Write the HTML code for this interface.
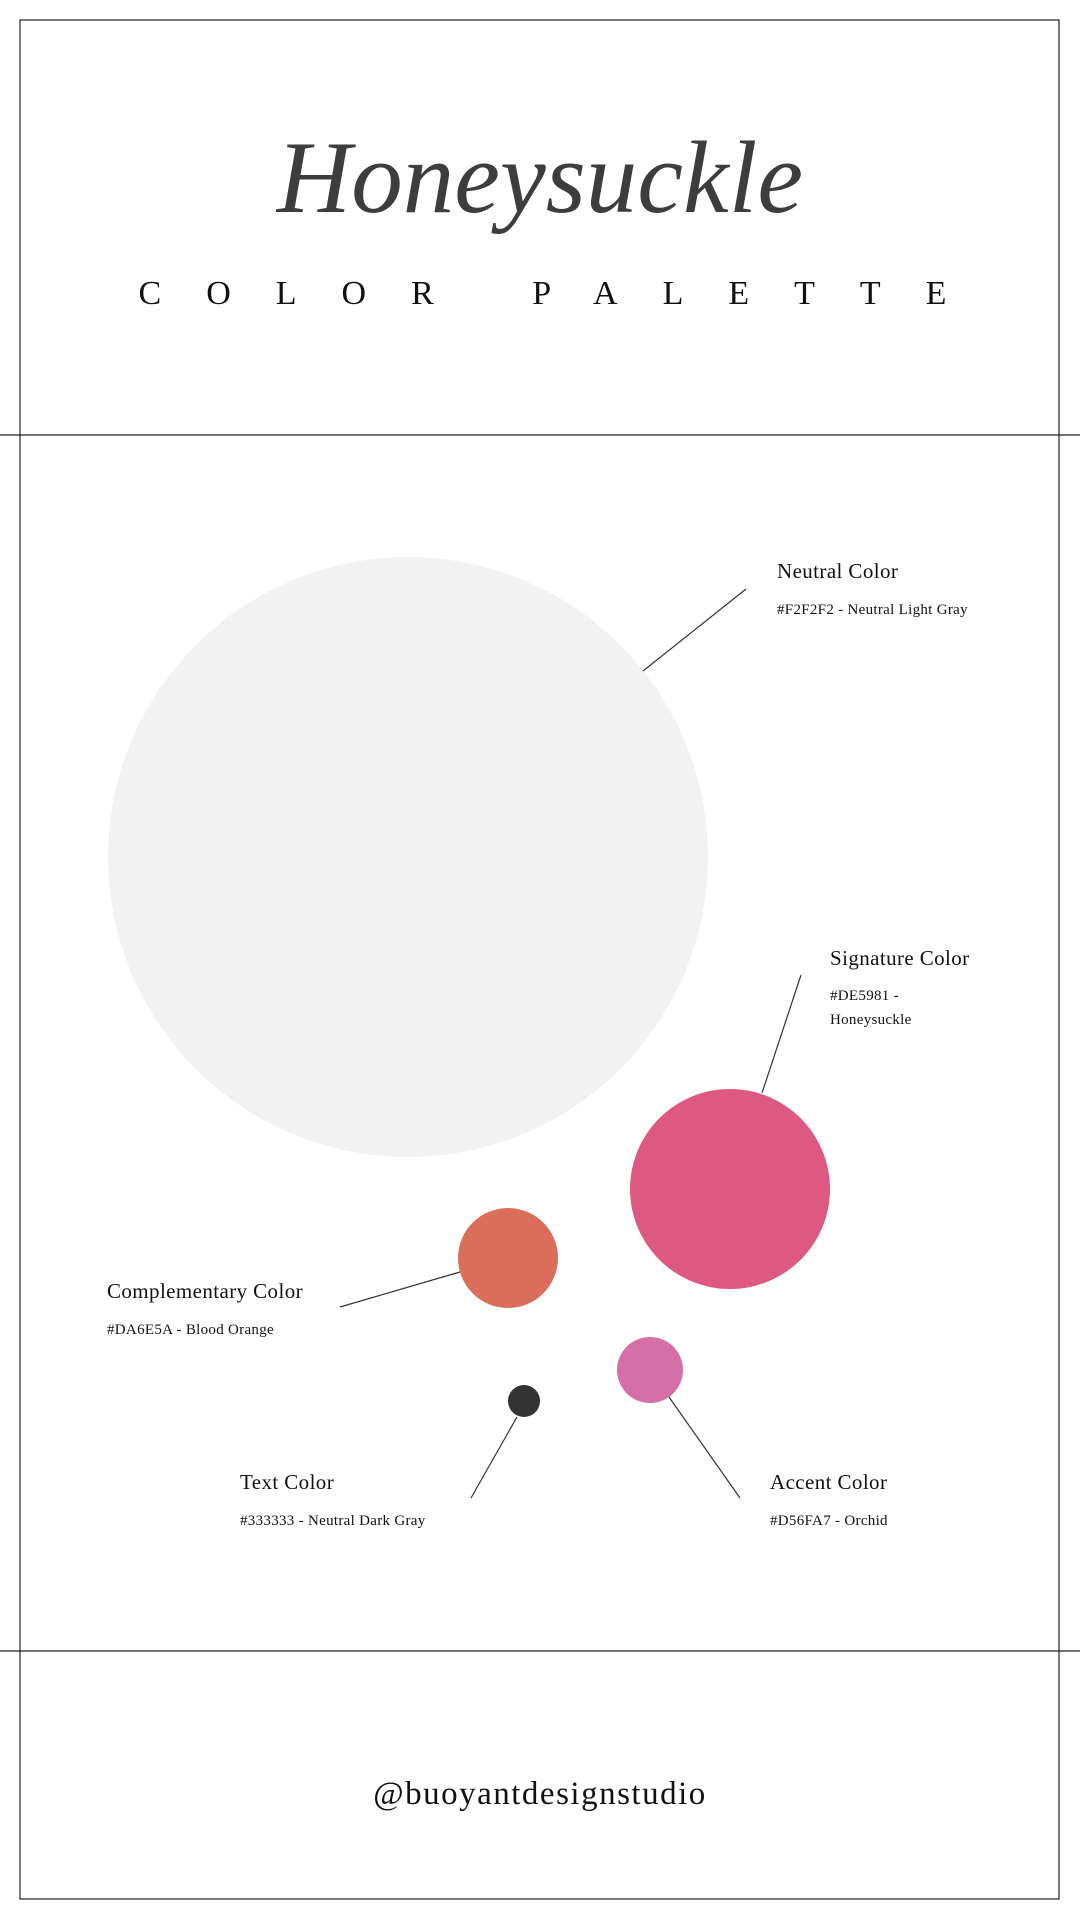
<!DOCTYPE html>
<html><head><meta charset="utf-8"><style>
html,body{margin:0;padding:0;background:#fff}
svg{display:block}
.t{font-family:"Liberation Serif",serif;fill:#111}
</style></head><body>
<svg width="1080" height="1920" viewBox="0 0 1080 1920" xmlns="http://www.w3.org/2000/svg">
<rect x="20" y="20" width="1039" height="1879" fill="none" stroke="#222" stroke-width="1.2"/>
<line x1="0" y1="435" x2="1080" y2="435" stroke="#222" stroke-width="1.2"/>
<line x1="0" y1="1651" x2="1080" y2="1651" stroke="#222" stroke-width="1.2"/>
<text x="540" y="212" text-anchor="middle" font-family="Liberation Serif,serif" font-style="italic" font-size="103" fill="#3d3d3d">Honeysuckle</text>
<text x="565" y="304" text-anchor="middle" class="t" font-size="34" letter-spacing="45">COLOR PALETTE</text>
<circle cx="408" cy="857" r="300" fill="#f2f2f2"/>
<circle cx="730" cy="1189" r="100" fill="#de5981"/>
<circle cx="508" cy="1258" r="50" fill="#da6e5a"/>
<circle cx="650" cy="1370" r="33" fill="#d56fa7"/>
<circle cx="524" cy="1401" r="16" fill="#333"/>
<g stroke="#333" stroke-width="1.2">
<line x1="643" y1="671" x2="746" y2="589"/>
<line x1="762" y1="1093" x2="801" y2="975"/>
<line x1="340" y1="1307" x2="460" y2="1272"/>
<line x1="471" y1="1498" x2="517" y2="1417"/>
<line x1="740" y1="1498" x2="669" y2="1397"/>
</g>
<g class="t">
<text x="777" y="578" font-size="21" letter-spacing="0.4">Neutral Color</text>
<text x="777" y="614" font-size="15" letter-spacing="0.3">#F2F2F2 - Neutral Light Gray</text>
<text x="830" y="965" font-size="21" letter-spacing="0.4">Signature Color</text>
<text x="830" y="1000" font-size="15" letter-spacing="0.3">#DE5981 -</text>
<text x="830" y="1024" font-size="15" letter-spacing="0.3">Honeysuckle</text>
<text x="107" y="1298" font-size="21" letter-spacing="0.4">Complementary Color</text>
<text x="107" y="1334" font-size="15" letter-spacing="0.3">#DA6E5A - Blood Orange</text>
<text x="240" y="1489" font-size="21" letter-spacing="0.4">Text Color</text>
<text x="240" y="1525" font-size="15" letter-spacing="0.3">#333333 - Neutral Dark Gray</text>
<text x="770" y="1489" font-size="21" letter-spacing="0.4">Accent Color</text>
<text x="770" y="1525" font-size="15" letter-spacing="0.3">#D56FA7 - Orchid</text>
<text x="540" y="1804" text-anchor="middle" font-size="33" letter-spacing="1.5">@buoyantdesignstudio</text>
</g>
</svg>
</body></html>
